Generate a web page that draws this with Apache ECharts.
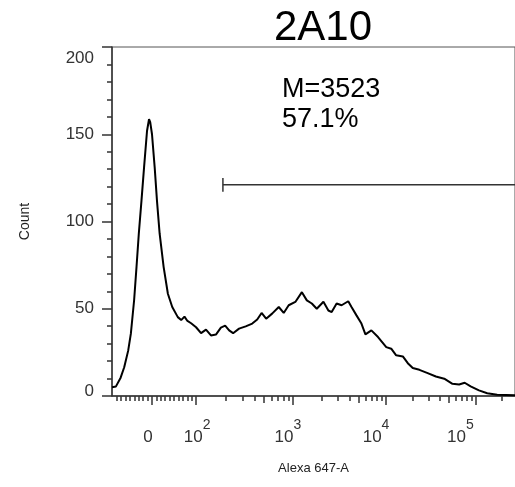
<!DOCTYPE html>
<html><head><meta charset="utf-8">
<script src="https://cdn.jsdelivr.net/npm/echarts@6/dist/echarts.min.js"></script>
<style>html,body{margin:0;padding:0;background:#fff}#c{width:515px;height:487px}</style>
</head><body><div id="c"></div>
<script>
// ---- chart data ----
const TITLE = '2A10';
const X_NAME = 'Alexa 647-A';
const Y_NAME = 'Count';
const STAT_LINES = ['M=3523', '57.1%'];
// histogram: display channel (biexponential display units across the axis) and count
const CHANNEL = [0, 4, 8.7, 12.3, 16.3, 19, 22.3, 24.7, 27, 29.7, 32.3, 35.3, 37.3, 38.5, 40.3, 43, 45.3, 48, 52, 56.3,
  60.7, 66.3, 69.7, 73, 76, 79.7, 84.7, 89.7, 94.7, 99.7, 104.7, 109.7, 114, 118, 122, 128, 134.7, 141.3, 146.3, 150.7,
  155.3, 161.3, 168, 173, 178, 184.7, 191.3, 196.3, 201.3, 206.3, 213, 218, 221.3, 226.3, 231.3, 238, 241.3, 246.3, 251.3, 255.3,
  261.3, 268, 276.3, 281.3, 286.3, 293, 298, 303, 309.7, 318, 326.3, 334.7, 343, 349.7, 355.3, 361.3, 369.7, 378, 388, 406];
const COUNT = [5, 5.5, 10.5, 16.5, 26, 35.7, 55, 74, 93, 112, 131, 152, 158.6, 157, 150, 131, 112, 93, 74, 58.6,
  51, 45.2, 43.5, 45.5, 43, 41.7, 39.4, 36, 38, 34.7, 35.2, 39.2, 40.3, 37.6, 36, 38.6, 39.9, 41.5, 43.8, 47.6,
  44.3, 47.2, 51, 47.6, 52, 53.9, 59.5, 54.8, 53, 50, 54, 49, 48.1, 53, 52, 54.3, 51, 46.2, 41.5, 35.3,
  37.6, 33.8, 28, 27.1, 23.3, 22.7, 18.8, 16, 15, 13.1, 11.2, 9.9, 7, 6.6, 7.6, 5.5, 3.2, 1.6, 0.7, 0.5];
// x axis ticks (fluorescence values)
const X_MAJOR = [0, 100, 1000, 10000, 100000];
const X_LABEL_BASE = ['0', '10', '10', '10', '10'];
const X_LABEL_EXP = ['', '2', '3', '4', '5'];
const X_MEDIUM = [500, 5000, 50000];
const X_MINOR = [-80, -70, -60, -50, -40, -30, -20, -10, 10, 20, 30, 40, 50, 60, 70, 80, 90,
  200, 300, 400, 600, 700, 800, 900, 2000, 3000, 4000, 6000, 7000, 8000, 9000,
  20000, 30000, 40000, 60000, 70000, 80000, 90000, 200000];
// gate
const GATE_FROM = 188;
const GATE_COUNT = 121;

// ---- axis scale (biexponential display) ----
const CH_MAX = 406, CH_ZERO = 40.3, LIN_SLOPE = 0.444;
function toChannel(v) {
  if (Math.abs(v) <= 100) return CH_ZERO + v * LIN_SLOPE;
  const u = Math.log10(v) - 3;
  return 182.2 + 95.7 * u - 1.9 * u * u;
}
// horizontal nudge of each major label relative to its tick (style)
const LABEL_NUDGE = [-2, 1, -5, -10, -15];

const FONT = '"Liberation Sans", Arial, sans-serif';
const majorCh = X_MAJOR.map(toChannel);
const labelCh = majorCh.map((c, i) => c + LABEL_NUDGE[i]);
function xLabel(val) {
  let best = 0, bd = Infinity;
  labelCh.forEach((c, i) => { const d = Math.abs(c - val); if (d < bd) { bd = d; best = i; } });
  return '{b|' + X_LABEL_BASE[best] + '}{s|' + (X_LABEL_EXP[best] || ' ') + '}';
}

const chart = echarts.init(document.getElementById('c'), null, {renderer: 'canvas'});
const baseX = {type: 'value', min: 0, max: CH_MAX, gridIndex: 0, position: 'bottom', splitLine: {show: false}};
const gx = toChannel(GATE_FROM);
const tickStyle = {color: '#333', width: 1.5};
chart.setOption({
  animation: false,
  backgroundColor: '#fff',
  title: {text: TITLE, left: 318, top: 2, textAlign: 'center',
    textStyle: {fontFamily: FONT, fontSize: 42, fontWeight: 'normal', color: '#000'}},
  grid: {left: 112, right: -3, top: 47, bottom: 91, show: true, borderColor: '#555', borderWidth: 1},
  xAxis: [
    Object.assign({}, baseX, {
      name: X_NAME, nameLocation: 'middle', nameGap: 66,
      nameTextStyle: {fontFamily: FONT, fontSize: 13, color: '#222'},
      axisLine: {show: true, lineStyle: {color: '#333', width: 1.5}},
      axisTick: {show: true, customValues: majorCh, length: 9, lineStyle: tickStyle},
      axisLabel: {show: false}
    }),
    Object.assign({}, baseX, {
      axisLine: {show: false}, axisLabel: {show: false},
      axisTick: {show: true, customValues: X_MEDIUM.map(toChannel), length: 7, lineStyle: tickStyle}
    }),
    Object.assign({}, baseX, {
      axisLine: {show: false}, axisLabel: {show: false},
      axisTick: {show: true, customValues: X_MINOR.map(toChannel), length: 5, lineStyle: tickStyle}
    }),
    Object.assign({}, baseX, {
      axisLine: {show: false}, axisTick: {show: false},
      axisLabel: {show: true, customValues: labelCh, margin: 32, formatter: xLabel,
        rich: {b: {fontFamily: FONT, fontSize: 17, lineHeight: 18, color: '#333'},
               s: {fontFamily: FONT, fontSize: 14, lineHeight: 14, padding: [0, 0, 24, 0], color: '#333'}}}
    })
  ],
  yAxis: {
    type: 'value', min: 0, max: 200, interval: 50,
    name: Y_NAME, nameLocation: 'middle', nameGap: 80,
    nameTextStyle: {fontFamily: FONT, fontSize: 14, color: '#222'},
    axisLine: {show: true, lineStyle: {color: '#333', width: 1.5}},
    axisTick: {show: true, length: 10, lineStyle: tickStyle},
    minorTick: {show: true, splitNumber: 5, length: 5, lineStyle: tickStyle},
    splitLine: {show: false}, minorSplitLine: {show: false},
    axisLabel: {margin: 18, fontFamily: FONT, fontSize: 17, color: '#333',
      formatter: v => v === 200 ? '{t|200}' : (v === 0 ? '{z|0}' : String(v)),
      rich: {t: {fontFamily: FONT, fontSize: 17, color: '#333', padding: [22, 0, 0, 0]},
             z: {fontFamily: FONT, fontSize: 17, color: '#333', padding: [0, 0, 10, 0]}}}
  },
  graphic: [{type: 'text', left: 282, top: 75,
    style: {text: STAT_LINES.join('\n'), font: '27px ' + FONT, lineHeight: 30, fill: '#000'}}],
  series: [
    {type: 'line', xAxisIndex: 0, data: CHANNEL.map((c, i) => [c, COUNT[i]]), symbol: 'none',
      lineStyle: {color: '#000', width: 2}, z: 5},
    {type: 'line', xAxisIndex: 0, data: [[gx, GATE_COUNT], [CH_MAX, GATE_COUNT]], symbol: 'none',
      lineStyle: {color: '#333', width: 1.5}},
    {type: 'line', xAxisIndex: 0, data: [[gx, GATE_COUNT - 4], [gx, GATE_COUNT + 4]], symbol: 'none',
      lineStyle: {color: '#333', width: 1.5}}
  ]
});
</script></body></html>
